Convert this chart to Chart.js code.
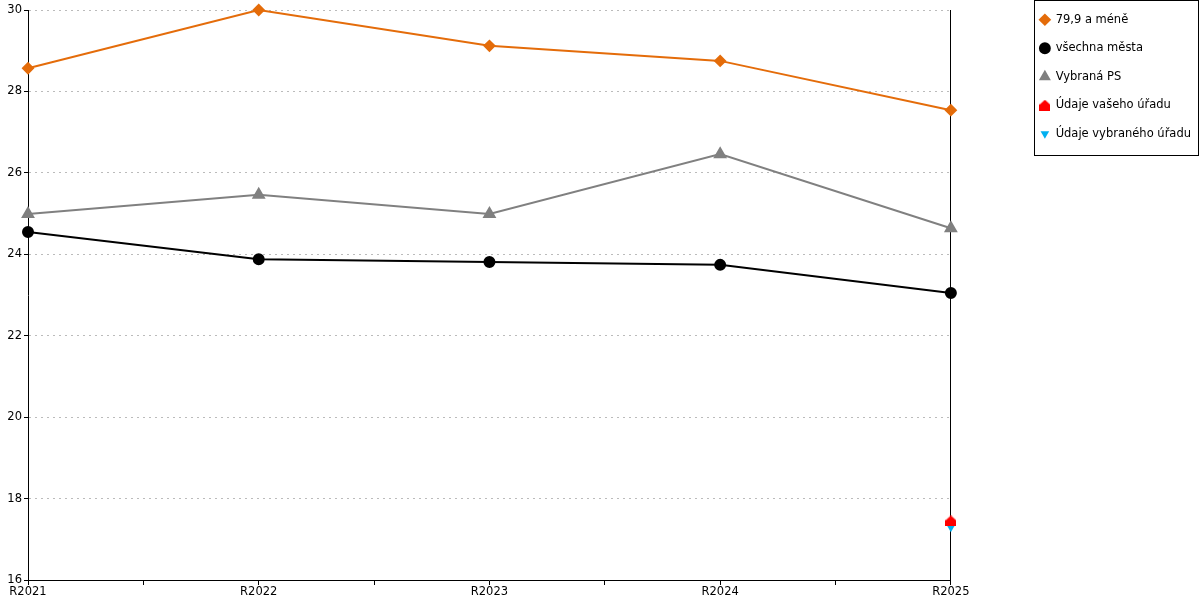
<!DOCTYPE html>
<html>
<head>
<meta charset="utf-8">
<script src="https://cdn.jsdelivr.net/npm/chart.js@4"></script>
<style>
  body { margin: 0; background: #fff; }
  #wrap { width: 1200px; height: 600px; }
</style>
</head>
<body>
<div id="wrap"><canvas id="chart"></canvas></div>
<script>
const years = ["R2021", "R2022", "R2023", "R2024", "R2025"]
const maleObce = [28.57, 30.0, 29.12, 28.75, 27.54]
const vsechnaMesta = [24.55, 23.88, 23.81, 23.74, 23.05]
const vybranaPS = [24.99, 25.46, 24.99, 26.46, 24.64]
const vaseUrad = [null, null, null, null, 17.45]
const vybranyUrad = [null, null, null, null, 17.32]
const yTicks = [16, 18, 20, 22, 24, 26, 28, 30]

// red "house" marker
function houseIcon(color, size) {
    const c = document.createElement("canvas")
    c.width = size
    c.height = size
    const g = c.getContext("2d")
    g.fillStyle = color
    g.beginPath()
    g.moveTo(size / 2, 0)
    g.lineTo(size, size * 0.45)
    g.lineTo(size, size)
    g.lineTo(0, size)
    g.lineTo(0, size * 0.45)
    g.closePath()
    g.fill()
    return c
}

function toPoints(arr) {
    return arr.map((v, i) => ({ x: i, y: v })).filter(p => p.y !== null)
}

// nudge legend into place and draw its frame
const legendBox = {
    id: "legendBox",
    afterLayout(chart) {
        const l = chart.legend
        l.top -= 13
        l.bottom -= 13
        l.left += 3
        l.right += 3
    },
    afterDraw(chart) {
        const c = chart.ctx
        c.save()
        c.strokeStyle = "#000"
        c.lineWidth = 1
        c.strokeRect(1034.5, 0.5, 164, 155)
        c.restore()
    }
}

const fnt = { family: "DejaVu Sans", size: 11.5 }

const ctx = document.getElementById("chart").getContext("2d")

const myChart = new Chart(ctx, {
    type: "line",
    data: {
        datasets: [
            {
                label: "79,9 a méně",
                data: toPoints(maleObce),
                borderColor: "#E46C0A",
                backgroundColor: "#E46C0A",
                pointStyle: "rectRot",
                pointRadius: 5,
                borderWidth: 2
            },
            {
                label: "všechna města",
                data: toPoints(vsechnaMesta),
                borderColor: "#000000",
                backgroundColor: "#000000",
                pointStyle: "circle",
                pointRadius: 5,
                borderWidth: 2
            },
            {
                label: "Vybraná PS",
                data: toPoints(vybranaPS),
                borderColor: "#808080",
                backgroundColor: "#808080",
                pointStyle: "triangle",
                pointRadius: 6,
                borderWidth: 2
            },
            {
                label: "Údaje vašeho úřadu",
                data: toPoints(vaseUrad),
                borderColor: "#FF0000",
                backgroundColor: "#FF0000",
                pointStyle: houseIcon("#FF0000", 11),
                showLine: false
            },
            {
                label: "Údaje vybraného úřadu",
                data: toPoints(vybranyUrad),
                borderColor: "#00B0F0",
                backgroundColor: "#00B0F0",
                pointStyle: "triangle",
                pointRotation: 180,
                pointRadius: 6,
                showLine: false
            }
        ]
    },
    options: {
        responsive: true,
        maintainAspectRatio: false,
        animation: false,
        layout: { padding: { top: 10, right: 2, left: 0, bottom: 0 } },
        elements: {
            line: { tension: 0 },
            point: { borderWidth: 0, hoverRadius: 6 }
        },
        datasets: { line: { clip: false } },
        font: fnt,
        plugins: {
            tooltip: { enabled: false },
            legend: {
                position: "right",
                align: "start",
                labels: {
                    usePointStyle: true,
                    boxWidth: 10,
                    boxHeight: 7,
                    padding: 17,
                    color: "#000",
                    font: fnt
                }
            }
        },
        scales: {
            x: {
                type: "linear",
                min: 0,
                max: years.length - 1,
                afterBuildTicks: s => {
                    const t = []
                    for (let v = 0; v <= years.length - 1; v += 0.5) t.push({ value: v })
                    s.ticks = t
                },
                afterFit: s => { s.height = 20 },
                ticks: {
                    autoSkip: false,
                    maxRotation: 0,
                    padding: 0,
                    color: "#000",
                    font: fnt,
                    callback: v => Number.isInteger(v) ? years[v] : ""
                },
                grid: { drawOnChartArea: false, tickLength: 5, tickColor: "#000" },
                border: { color: "#000", width: 1 }
            },
            y: {
                min: 16,
                max: 30,
                afterBuildTicks: s => { s.ticks = yTicks.map(v => ({ value: v })) },
                afterFit: s => { s.width = 28 },
                ticks: {
                    padding: 2,
                    color: "#000",
                    font: fnt
                },
                grid: { color: "#bbbbbb", tickLength: 4, tickColor: "#000" },
                border: { color: "#000", width: 1, dash: [2, 4] }
            },
            y2: {
                position: "right",
                min: 16,
                max: 30,
                afterFit: s => { s.width = 69 },
                ticks: { display: false },
                grid: { display: false },
                border: { color: "#000", width: 1 }
            }
        }
    },
    plugins: [legendBox]
})
</script>
</body>
</html>
